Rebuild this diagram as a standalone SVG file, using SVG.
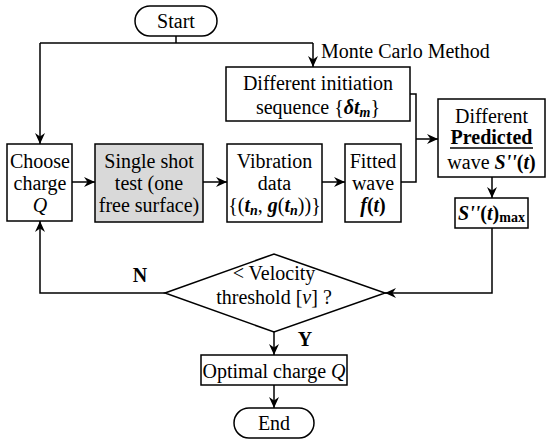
<svg xmlns="http://www.w3.org/2000/svg" width="550" height="444" viewBox="0 0 550 444">
<style>
text{font-family:"Liberation Serif","Times New Roman",serif;font-size:20px;fill:#000;text-anchor:middle}
.b{fill:#fff;stroke:#000;stroke-width:1.5}
.g{fill:#d9d9d9;stroke:#000;stroke-width:1.5}
.c path{fill:none;stroke:#000;stroke-width:1.5}
.bi{font-weight:bold;font-style:italic}
.it{font-style:italic}
.bd{font-weight:bold}
</style>
<defs>
<marker id="ah" markerUnits="userSpaceOnUse" markerWidth="12" markerHeight="10" refX="11" refY="5" orient="auto">
<path d="M0,0 L11,5 L0,10 L3.5,5 Z" fill="#000"/>
</marker>
</defs>
<g class="c" id="connectors">
<path d="M176,36 V43"/>
<path d="M40,43 H313"/>
<path d="M40,43 V144" marker-end="url(#ah)"/>
<path d="M313,43 V67" marker-end="url(#ah)"/>
<path d="M410,94 H416 V139"/>
<path d="M401,182 H416 V139"/>
<path d="M416,139 H438" marker-end="url(#ah)"/>
<path d="M72,182 H95" marker-end="url(#ah)"/>
<path d="M203,182 H227" marker-end="url(#ah)"/>
<path d="M322,182 H345" marker-end="url(#ah)"/>
<path d="M492,177 V198" marker-end="url(#ah)"/>
<path d="M492,228 V293 H385" marker-end="url(#ah)"/>
<path d="M165,293 H40 V221" marker-end="url(#ah)"/>
<path d="M274,332 V355" marker-end="url(#ah)"/>
<path d="M274,385 V408" marker-end="url(#ah)"/>
</g>
<text x="321" y="58" style="text-anchor:start">Monte Carlo Method</text>
<text x="140" y="282" class="bd">N</text>
<text x="305" y="346" class="bd">Y</text>
<g id="start">
<rect class="b" x="135" y="6" width="82" height="30" rx="15"/>
<text x="176" y="28">Start</text>
</g>
<g id="initiation">
<rect class="b" x="226" y="67" width="184" height="54"/>
<text x="318" y="90">Different initiation</text>
<text x="318" y="114">sequence {<tspan class="bi">δt</tspan><tspan class="bi" font-size="14" dy="3">m</tspan><tspan dy="-3">}</tspan></text>
</g>
<g id="choose">
<rect class="b" x="7" y="144" width="65" height="77"/>
<text x="40" y="168">Choose</text>
<text x="40" y="190">charge</text>
<text x="40" y="212" class="it">Q</text>
</g>
<g id="single">
<rect class="g" x="95" y="144" width="108" height="78"/>
<text x="149" y="168">Single shot</text>
<text x="149" y="190">test (one</text>
<text x="149" y="212">free surface)</text>
</g>
<g id="vibration">
<rect class="b" x="227" y="144" width="95" height="78"/>
<text x="274.5" y="168">Vibration</text>
<text x="274.5" y="190">data</text>
<text x="274.5" y="212">{(<tspan class="bi">t</tspan><tspan class="bi" font-size="14" dy="3">n</tspan><tspan dy="-3">, </tspan><tspan class="bi">g</tspan>(<tspan class="bi">t</tspan><tspan class="bi" font-size="14" dy="3">n</tspan><tspan dy="-3">))}</tspan></text>
</g>
<g id="fitted">
<rect class="b" x="345" y="144" width="56" height="78"/>
<text x="373" y="168">Fitted</text>
<text x="373" y="190">wave</text>
<text x="373" y="212"><tspan class="bi">f</tspan><tspan class="bd">(</tspan><tspan class="bi">t</tspan><tspan class="bd">)</tspan></text>
</g>
<g id="predicted">
<rect class="b" x="438" y="99" width="107" height="78"/>
<text x="491.5" y="123">Different</text>
<text x="491.5" y="144" class="bd">Predicted</text>
<line x1="450" y1="148" x2="533" y2="148" stroke="#444" stroke-width="2"/>
<text x="491.5" y="169">wave <tspan class="bi">S''</tspan><tspan class="bd">(</tspan><tspan class="bi">t</tspan><tspan class="bd">)</tspan></text>
</g>
<g id="smax">
<rect class="b" x="455" y="198" width="73" height="30"/>
<text x="491.5" y="220"><tspan class="bi">S''</tspan><tspan class="bd">(</tspan><tspan class="bi">t</tspan><tspan class="bd">)</tspan><tspan class="bd" font-size="14" dy="2">max</tspan></text>
</g>
<g id="decision">
<polygon class="b" points="165,293 274,254 385,293 274,332"/>
<text x="274" y="280">&lt; Velocity</text>
<text x="274" y="304">threshold [<tspan class="it">v</tspan>] ?</text>
</g>
<g id="optimal">
<rect class="b" x="201" y="355" width="146" height="30"/>
<text x="274" y="378">Optimal charge <tspan class="it">Q</tspan></text>
</g>
<g id="end">
<rect class="b" x="234" y="408" width="80" height="30" rx="15"/>
<text x="274" y="430">End</text>
</g>
</svg>
